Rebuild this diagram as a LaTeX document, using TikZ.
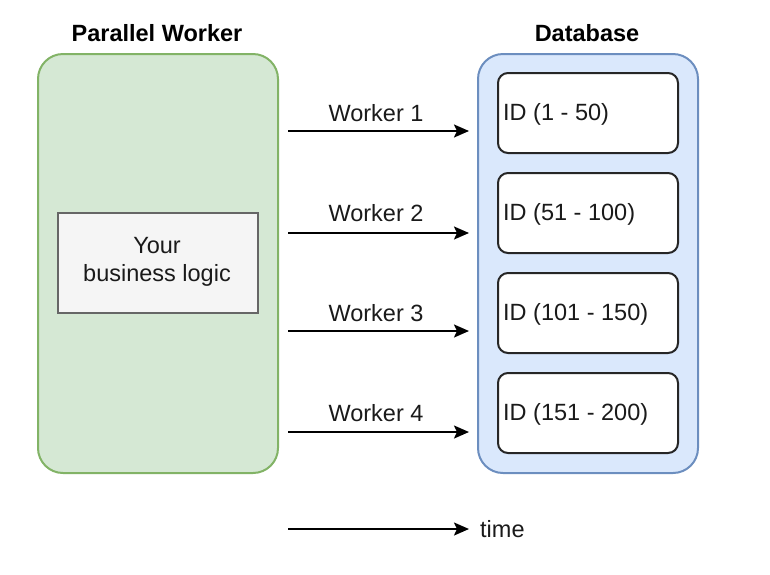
\documentclass[tikz,border=0pt]{standalone}
\usepackage{fontspec}
\setmainfont{Liberation Sans}
\usetikzlibrary{arrows.meta}
\definecolor{gfill}{HTML}{D5E8D4}
\definecolor{gdraw}{HTML}{82B366}
\definecolor{bfill}{HTML}{DAE8FC}
\definecolor{bdraw}{HTML}{6C8EBF}
\definecolor{lfill}{HTML}{F5F5F5}
\definecolor{ldraw}{HTML}{666666}
\definecolor{tx}{HTML}{1A1A1A}
\tikzset{
  txt/.style={font=\fontsize{23.5}{27}\selectfont, text=tx, inner sep=0pt},
  ttl/.style={font=\fontsize{23.5}{27}\selectfont\bfseries, text=black, inner sep=0pt},
  idbox/.style={draw=black!85, line width=2pt, fill=white, rounded corners=10pt,
     minimum width=180pt, minimum height=80pt, anchor=north west},
  arr/.style={-{Stealth[length=15pt,width=13pt,inset=3pt]}, line width=2pt, black},
}
\begin{document}
\begin{tikzpicture}[x=1pt,y=-1pt]
\useasboundingbox (0,0) rectangle (770,574);
% containers
\node[draw=gdraw, fill=gfill, line width=2pt, rounded corners=25pt,
  minimum width=240pt, minimum height=419pt, anchor=north west] (pw) at (37,53) {};
\node[draw=bdraw, fill=bfill, line width=2pt, rounded corners=25pt,
  minimum width=220pt, minimum height=419pt, anchor=north west] (db) at (477,53) {};
\node[ttl] (pwt) at (157,33) {Parallel Worker};
\node[ttl] (dbt) at (587,33) {Database};
% business logic
\node[draw=ldraw, fill=lfill, line width=2pt, minimum width=200pt, minimum height=100pt,
  anchor=north west] (bl) at (57,212) {};
\node[txt, align=center] (blt) at (157,262) {Your\\[1pt]business logic};
% id boxes
\node[idbox] (id1) at (497,72) {};
\node[idbox] (id2) at (497,172) {};
\node[idbox] (id3) at (497,272) {};
\node[idbox] (id4) at (497,372) {};
\node[txt, anchor=west] at ([xshift=6pt,yshift=-1pt]id1.west) {ID (1 - 50)};
\node[txt, anchor=west] at ([xshift=6pt,yshift=-1pt]id2.west) {ID (51 - 100)};
\node[txt, anchor=west] at ([xshift=6pt,yshift=-1pt]id3.west) {ID (101 - 150)};
\node[txt, anchor=west] at ([xshift=6pt,yshift=-1pt]id4.west) {ID (151 - 200)};
% arrows
\coordinate (s1) at (288,131); \coordinate (e1) at (469,131);
\coordinate (s2) at (288,233); \coordinate (e2) at (469,233);
\coordinate (s3) at (288,331); \coordinate (e3) at (469,331);
\coordinate (s4) at (288,432); \coordinate (e4) at (469,432);
\coordinate (s5) at (288,529); \coordinate (e5) at (469,529);
\draw[arr] (s1) -- (e1);
\draw[arr] (s2) -- (e2);
\draw[arr] (s3) -- (e3);
\draw[arr] (s4) -- (e4);
\draw[arr] (s5) -- (e5);
\node[txt] (w1) at (376,113) {Worker 1};
\node[txt] (w2) at (376,213) {Worker 2};
\node[txt] (w3) at (376,313) {Worker 3};
\node[txt] (w4) at (376,413) {Worker 4};
\node[txt, anchor=west] (tm) at (480,529) {time};
\end{tikzpicture}
\end{document}
